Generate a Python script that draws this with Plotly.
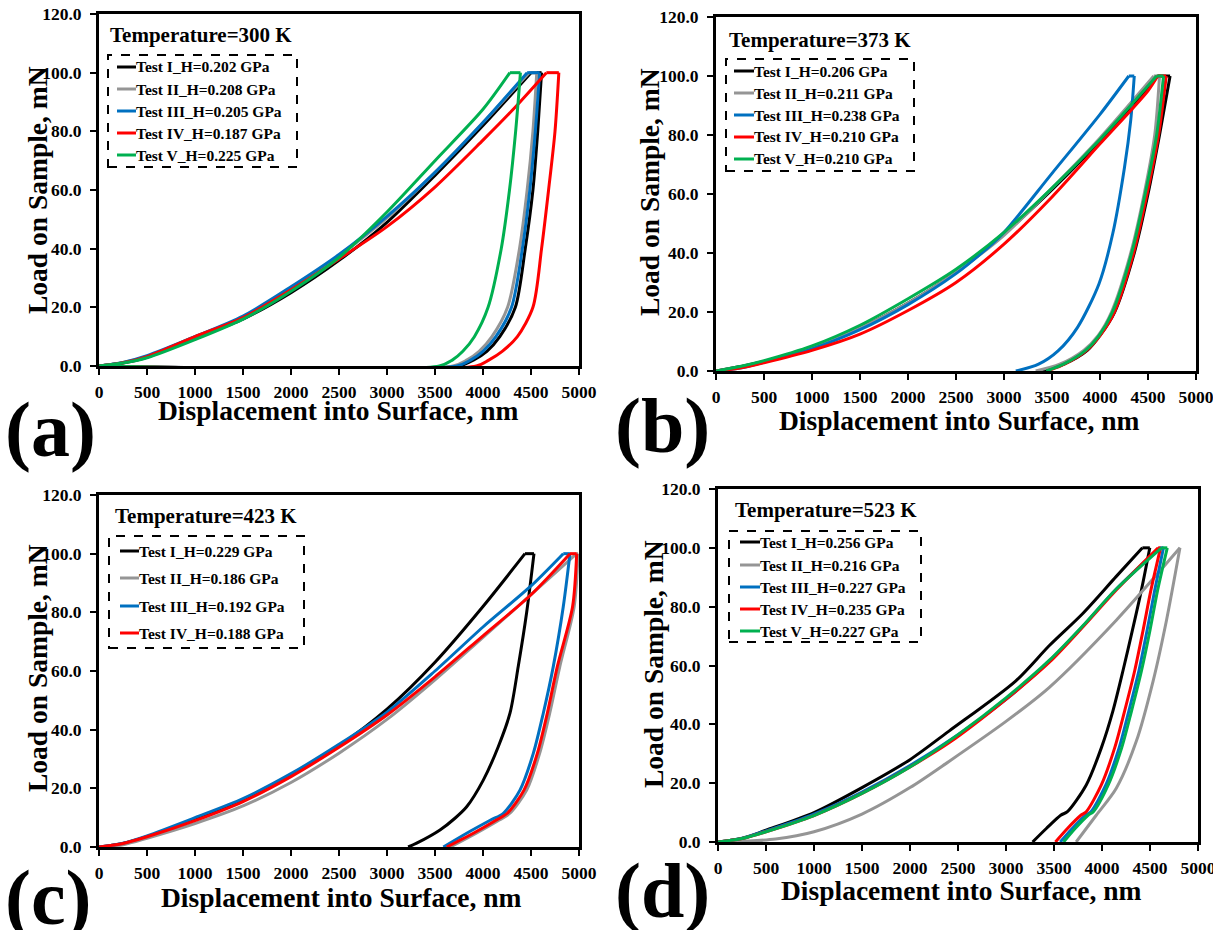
import plotly.graph_objects as go

PAGE_W, PAGE_H = 1221, 930
BODY = 8                      # default page margin of the html body
W, H = PAGE_W - BODY, PAGE_H - BODY

x_ticks = [0, 500, 1000, 1500, 2000, 2500, 3000, 3500, 4000, 4500, 5000]
y_ticks = [0, 20, 40, 60, 80, 100, 120]
x_title = "Displacement into Surface, nm"
y_title = "Load on Sample, mN"
colors = ["#000000", "#959595", "#0070C0", "#FF0000", "#00B050"]

# ---------------- panel (a) 300 K ----------------
a_temp = "Temperature=300 K"
a_labels = ["Test I_H=0.202 GPa", "Test II_H=0.208 GPa", "Test III_H=0.205 GPa",
            "Test IV_H=0.187 GPa", "Test V_H=0.225 GPa"]
a_I_load = [(0, 0), (250, 1), (500, 3), (1000, 9.5), (1500, 16), (2000, 25), (2500, 36),
            (3000, 49), (3500, 65), (4000, 82), (4500, 100)]
a_I_unload = [(4610, 100), (4570, 80), (4520, 60), (4440, 40), (4337, 20), (4175, 10),
              (4040, 5), (3900, 2), (3748, 0), (0, 0)]
a_II_load = [(0, 0), (250, 1.2), (500, 3.3), (1000, 10), (1500, 16.5), (2000, 26), (2500, 37.5),
             (3000, 50.5), (3500, 66), (4000, 83), (4480, 100)]
a_II_unload = [(4560, 100), (4520, 80), (4460, 60), (4380, 40), (4256, 20), (4093, 10),
               (3960, 5), (3830, 2), (3687, 0), (0, 0)]
a_III_load = [(0, 0), (250, 1.2), (500, 3.5), (1000, 10), (1500, 17), (2000, 27), (2500, 38),
              (3000, 51), (3500, 66), (4000, 83), (4460, 100)]
a_III_unload = [(4590, 100), (4545, 80), (4488, 60), (4410, 40), (4297, 20), (4134, 10),
                (4000, 5), (3870, 2), (3728, 0), (0, 0)]
a_IV_load = [(0, 0), (250, 1.1), (500, 3.2), (1000, 10), (1500, 16.5), (2000, 26), (2500, 36.5),
             (3000, 47.5), (3500, 61), (4000, 77), (4300, 87), (4660, 100)]
a_IV_unload = [(4790, 100), (4750, 80), (4683, 60), (4610, 40), (4520, 20), (4358, 10),
               (4200, 5), (4060, 2), (3931, 0), (0, 0)]
a_V_load = [(0, 0), (250, 1), (500, 2.8), (1000, 9), (1500, 16), (2000, 25.5), (2500, 37),
            (3000, 52.5), (3500, 70), (4000, 87.5), (4280, 100)]
a_V_unload = [(4390, 100), (4340, 80), (4276, 60), (4190, 40), (4053, 20), (3910, 10),
              (3790, 5), (3680, 2), (3545, 0), (0, 0)]

# ---------------- panel (b) 373 K ----------------
b_temp = "Temperature=373 K"
b_labels = ["Test I_H=0.206 GPa", "Test II_H=0.211 GPa", "Test III_H=0.238 GPa",
            "Test IV_H=0.210 GPa", "Test V_H=0.210 GPa"]
b_I_load = [(0, 0), (250, 1.5), (500, 3.2), (1000, 8), (1500, 14.5), (2000, 23), (2500, 33.5),
            (3000, 46.5), (3500, 61.5), (4000, 78), (4500, 96), (4600, 100)]
b_I_unload = [(4730, 100), (4620, 80), (4500, 60), (4357, 40), (4153, 20), (4010, 12.5),
              (3868, 7), (3624, 2.3), (3400, 0)]
b_II_load = [(0, 0), (250, 1.4), (500, 3), (1000, 8), (1500, 14.5), (2000, 23), (2500, 33.5),
             (3000, 46), (3500, 62), (4000, 79), (4560, 100)]
b_II_unload = [(4620, 100), (4570, 80), (4460, 60), (4320, 40), (4120, 20), (3980, 12),
               (3830, 7), (3580, 2.3), (3330, 0)]
b_III_load = [(0, 0), (250, 1), (500, 3), (1000, 7.5), (1500, 14), (2000, 22.5), (2500, 33),
              (2750, 39.5), (3000, 47), (3500, 67), (4000, 87), (4300, 100)]
b_III_unload = [(4357, 100), (4320, 85), (4255, 69), (4133, 46.6), (3990, 29.6), (3766, 14.8),
                (3563, 6.8), (3360, 2.3), (3123, 0)]
b_IV_load = [(0, 0), (250, 1), (500, 2.8), (1000, 7), (1500, 12.5), (2000, 20.5), (2500, 30),
             (3000, 43), (3500, 59), (4000, 77), (4500, 95), (4600, 100)]
b_IV_unload = [(4690, 100), (4610, 80), (4490, 60), (4350, 40), (4150, 20), (4000, 12),
               (3860, 7), (3630, 2.3), (3450, 0)]
b_V_load = [(0, 0), (250, 1.5), (500, 3.5), (1000, 8.5), (1500, 15.5), (2000, 24.5), (2500, 34.5),
            (3000, 47), (3500, 62), (4000, 78.5), (4590, 100)]
b_V_unload = [(4662, 100), (4590, 80), (4470, 60), (4330, 40), (4130, 20), (3990, 12),
              (3850, 7), (3620, 2.3), (3440, 0)]

# ---------------- panel (c) 423 K ----------------
c_temp = "Temperature=423 K"
c_labels = ["Test I_H=0.229 GPa", "Test II_H=0.186 GPa", "Test III_H=0.192 GPa",
            "Test IV_H=0.188 GPa"]
c_I_load = [(0, 0), (250, 1.2), (500, 3.5), (1000, 9.5), (1500, 16), (2000, 24.5), (2500, 34.5),
            (3000, 47), (3500, 63), (4000, 82), (4437, 100)]
c_I_unload = [(4531, 100), (4455, 80), (4367, 61.5), (4281, 45.6), (4159, 34.2), (4003, 22.8),
              (3830, 13.7), (3708, 9.8), (3552, 5.8), (3309, 1.3), (3220, 0)]
c_II_load = [(0, 0), (250, 0.8), (500, 3), (1000, 8), (1500, 14), (2000, 22), (2500, 32),
             (3000, 43.5), (3500, 57), (4000, 71.5), (4500, 86), (4975, 100)]
c_II_unload = [(4990, 100), (4950, 82), (4800, 61.5), (4695, 45.6), (4590, 31.9), (4455, 19.4),
               (4280, 11.5), (4170, 9.2), (3930, 4.7), (3660, 0)]
c_III_load = [(0, 0), (250, 1.3), (500, 3.8), (1000, 10), (1500, 16.5), (2000, 25), (2500, 35),
              (3000, 46), (3500, 60), (4000, 75), (4500, 89), (4836, 100)]
c_III_unload = [(4906, 100), (4836, 81.9), (4732, 61.5), (4628, 45.6), (4524, 31.9),
                (4385, 19.4), (4212, 11.5), (4080, 9.2), (3830, 4.7), (3587, 0)]
c_IV_load = [(0, 0), (250, 1.2), (500, 3.5), (1000, 9), (1500, 15.5), (2000, 24), (2500, 34),
             (3000, 45), (3500, 58), (4000, 72), (4500, 86), (4906, 100)]
c_IV_unload = [(4976, 100), (4933, 81.9), (4774, 61.5), (4670, 45.6), (4566, 31.9),
               (4427, 19.4), (4253, 11.5), (4140, 9.2), (3899, 4.7), (3622, 0)]

# ---------------- panel (d) 523 K ----------------
d_temp = "Temperature=523 K"
d_labels = ["Test I_H=0.256 GPa", "Test II_H=0.216 GPa", "Test III_H=0.227 GPa",
            "Test IV_H=0.235 GPa", "Test V_H=0.227 GPa"]
d_I_load = [(0, 0), (250, 1.2), (500, 4), (1000, 10), (1500, 18.5), (2000, 28), (2406, 37.7),
            (3103, 54.8), (3452, 66.8), (3800, 77.7), (4149, 90.3), (4421, 100)]
d_I_unload = [(4498, 100), (4411, 85.7), (4317, 72), (4219, 58.3), (4114, 44.6), (3993, 32),
              (3836, 19.4), (3640, 10.3), (3570, 9.1), (3420, 4.6), (3277, 0)]
d_II_load = [(0, 0), (300, 0.3), (600, 1), (1000, 3.5), (1500, 9.5), (2000, 18.5), (2406, 27.4),
             (3000, 41), (3452, 52.6), (4149, 75.4), (4812, 100)]
d_II_unload = [(4812, 100), (4672, 75.4), (4533, 54.8), (4358, 34.3), (4149, 18.3),
               (3940, 9.1), (3731, 0)]
d_III_load = [(0, 0), (250, 1.3), (500, 3.8), (1000, 9.5), (1500, 17), (2000, 26), (2500, 36.5),
              (3000, 48.5), (3452, 61.5), (3800, 73.3), (4149, 86), (4600, 100)]
d_III_unload = [(4640, 100), (4550, 85.7), (4470, 72), (4385, 58.3), (4280, 44.6), (4178, 32),
                (4040, 19.4), (3885, 10.3), (3830, 9.1), (3690, 4.6), (3565, 0)]
d_IV_load = [(0, 0), (250, 1.2), (500, 3.5), (1000, 9), (1500, 16.5), (2000, 25.5), (2406, 33.7),
             (3000, 48.5), (3452, 61.1), (3800, 73.1), (4149, 85.7), (4585, 100)]
d_IV_unload = [(4610, 100), (4510, 85.7), (4428, 72), (4341, 58.3), (4236, 44.6), (4132, 32),
               (3993, 19.4), (3836, 10.3), (3780, 9.1), (3640, 4.6), (3515, 0)]
d_V_load = [(0, 0), (250, 1.2), (500, 3.5), (1000, 9), (1500, 16.5), (2000, 25.5), (2500, 36.5),
            (3000, 49), (3452, 61.8), (3800, 73.5), (4149, 86), (4620, 100)]
d_V_unload = [(4680, 100), (4580, 85.7), (4500, 72), (4412, 58.3), (4308, 44.6), (4205, 32),
              (4065, 19.4), (3910, 10.3), (3855, 9.1), (3720, 4.6), (3600, 0)]

panels = [
    dict(tag="(a)", temp=a_temp, labels=a_labels,
         tests=[(a_I_load, a_I_unload), (a_II_load, a_II_unload), (a_III_load, a_III_unload),
                (a_IV_load, a_IV_unload), (a_V_load, a_V_unload)],
         dom=(99, 579, 14, 366), tpos=(108, 35), box=(108, 55, 297, 167),
         ey=[67, 89, 111, 133, 155], lx=(117, 136), xt=(339, 410), yt=(37, 190), lt=(3, 429)),
    dict(tag="(b)", temp=b_temp, labels=b_labels,
         tests=[(b_I_load, b_I_unload), (b_II_load, b_II_unload), (b_III_load, b_III_unload),
                (b_IV_load, b_IV_unload), (b_V_load, b_V_unload)],
         dom=(716, 1196, 17, 371), tpos=(727, 40), box=(726, 59, 914, 171),
         ey=[71, 93, 115, 137, 159], lx=(734, 754), xt=(959, 420), yt=(649, 192), lt=(613, 426)),
    dict(tag="(c)", temp=c_temp, labels=c_labels,
         tests=[(c_I_load, c_I_unload), (c_II_load, c_II_unload), (c_III_load, c_III_unload),
                (c_IV_load, c_IV_unload)],
         dom=(99, 579, 495, 847), tpos=(113, 516), box=(109, 536, 304, 648),
         ey=[551, 578, 606, 633], lx=(120, 139), xt=(341, 897), yt=(37, 668), lt=(3, 897)),
    dict(tag="(d)", temp=d_temp, labels=d_labels,
         tests=[(d_I_load, d_I_unload), (d_II_load, d_II_unload), (d_III_load, d_III_unload),
                (d_IV_load, d_IV_unload), (d_V_load, d_V_unload)],
         dom=(718, 1198, 489, 842), tpos=(733, 510), box=(729, 531, 921, 642),
         ey=[542, 565, 587, 609, 631], lx=(740, 760), xt=(961, 890), yt=(653, 664), lt=(613, 890)),
]


def px(x):
    return (x - BODY) / W


def py(y):
    return 1 - (y - BODY) / H


FONT = "Liberation Serif"
fig = go.Figure()
shapes, annos = [], []
layout = {}

for i, p in enumerate(panels):
    n = "" if i == 0 else str(i + 1)
    xa, ya = "x" + n, "y" + n
    x0, x1, y0, y1 = p["dom"]
    axis_common = dict(showline=True, linewidth=3, linecolor="black", mirror=True,
                       ticks="outside", ticklen=6, tickwidth=2, tickcolor="black",
                       showgrid=False, zeroline=False, automargin=False,
                       ticklabeloverflow="allow",
                       tickfont=dict(family=FONT, size=17.5, color="black", weight="bold"))
    layout["xaxis" + n] = dict(domain=[px(x0), px(x1)], range=[0, 5000], tickvals=x_ticks,
                               anchor=ya, ticklabelstandoff=2, **axis_common)
    layout["yaxis" + n] = dict(domain=[py(y1), py(y0)], range=[0, 120], tickvals=y_ticks,
                               tickformat=".1f", anchor=xa, ticklabelstandoff=5, **axis_common)

    for k, (load, unload) in enumerate(p["tests"]):
        col = colors[k]
        lx_ = [q[0] for q in load]
        ly_ = [q[1] for q in load]
        ux_ = [q[0] for q in unload]
        uy_ = [q[1] for q in unload]
        common = dict(mode="lines", xaxis=xa, yaxis=ya, showlegend=False, hoverinfo="skip")
        fig.add_trace(go.Scatter(x=lx_, y=ly_, line=dict(color=col, width=3, shape="spline",
                                                         smoothing=0.8), **common))
        fig.add_trace(go.Scatter(x=[lx_[-1], ux_[0]], y=[ly_[-1], uy_[0]],
                                 line=dict(color=col, width=3), **common))
        fig.add_trace(go.Scatter(x=ux_, y=uy_, line=dict(color=col, width=3, shape="spline",
                                                         smoothing=0.8), **common))
        # legend entry
        ey = p["ey"][k]
        shapes.append(dict(type="line", xref="paper", yref="paper",
                           x0=px(p["lx"][0]), x1=px(p["lx"][1]), y0=py(ey), y1=py(ey),
                           line=dict(color=col, width=3)))
        annos.append(dict(xref="paper", yref="paper", x=px(p["lx"][1] - 2), y=py(ey),
                          xanchor="left", yanchor="middle", showarrow=False,
                          text=p["labels"][k],
                          font=dict(family=FONT, size=15.5, color="black", weight="bold")))

    bx0, by0, bx1, by1 = p["box"]
    shapes.append(dict(type="rect", xref="paper", yref="paper", x0=px(bx0), x1=px(bx1),
                       y0=py(by1), y1=py(by0), line=dict(color="black", width=2, dash="dash")))
    annos.append(dict(xref="paper", yref="paper", x=px(p["tpos"][0]), y=py(p["tpos"][1]),
                      xanchor="left", yanchor="middle", showarrow=False, text=p["temp"],
                      font=dict(family=FONT, size=21, color="black", weight="bold")))
    annos.append(dict(xref="paper", yref="paper", x=px(p["xt"][0]), y=py(p["xt"][1]),
                      xanchor="center", yanchor="middle", showarrow=False, text=x_title,
                      font=dict(family=FONT, size=27.5, color="black", weight="bold")))
    annos.append(dict(xref="paper", yref="paper", x=px(p["yt"][0]), y=py(p["yt"][1]),
                      xanchor="center", yanchor="middle", showarrow=False, text=y_title,
                      textangle=-90,
                      font=dict(family=FONT, size=27.5, color="black", weight="bold")))
    annos.append(dict(xref="paper", yref="paper", x=px(p["lt"][0]), y=py(p["lt"][1]),
                      xanchor="left", yanchor="middle", showarrow=False, text=p["tag"],
                      font=dict(family=FONT, size=78, color="black", weight="bold")))

fig.update_layout(width=W, height=H, margin=dict(l=0, r=0, t=0, b=0, pad=0),
                  paper_bgcolor="white", plot_bgcolor="white",
                  shapes=shapes, annotations=annos, **layout)
fig.write_html("out.html")
